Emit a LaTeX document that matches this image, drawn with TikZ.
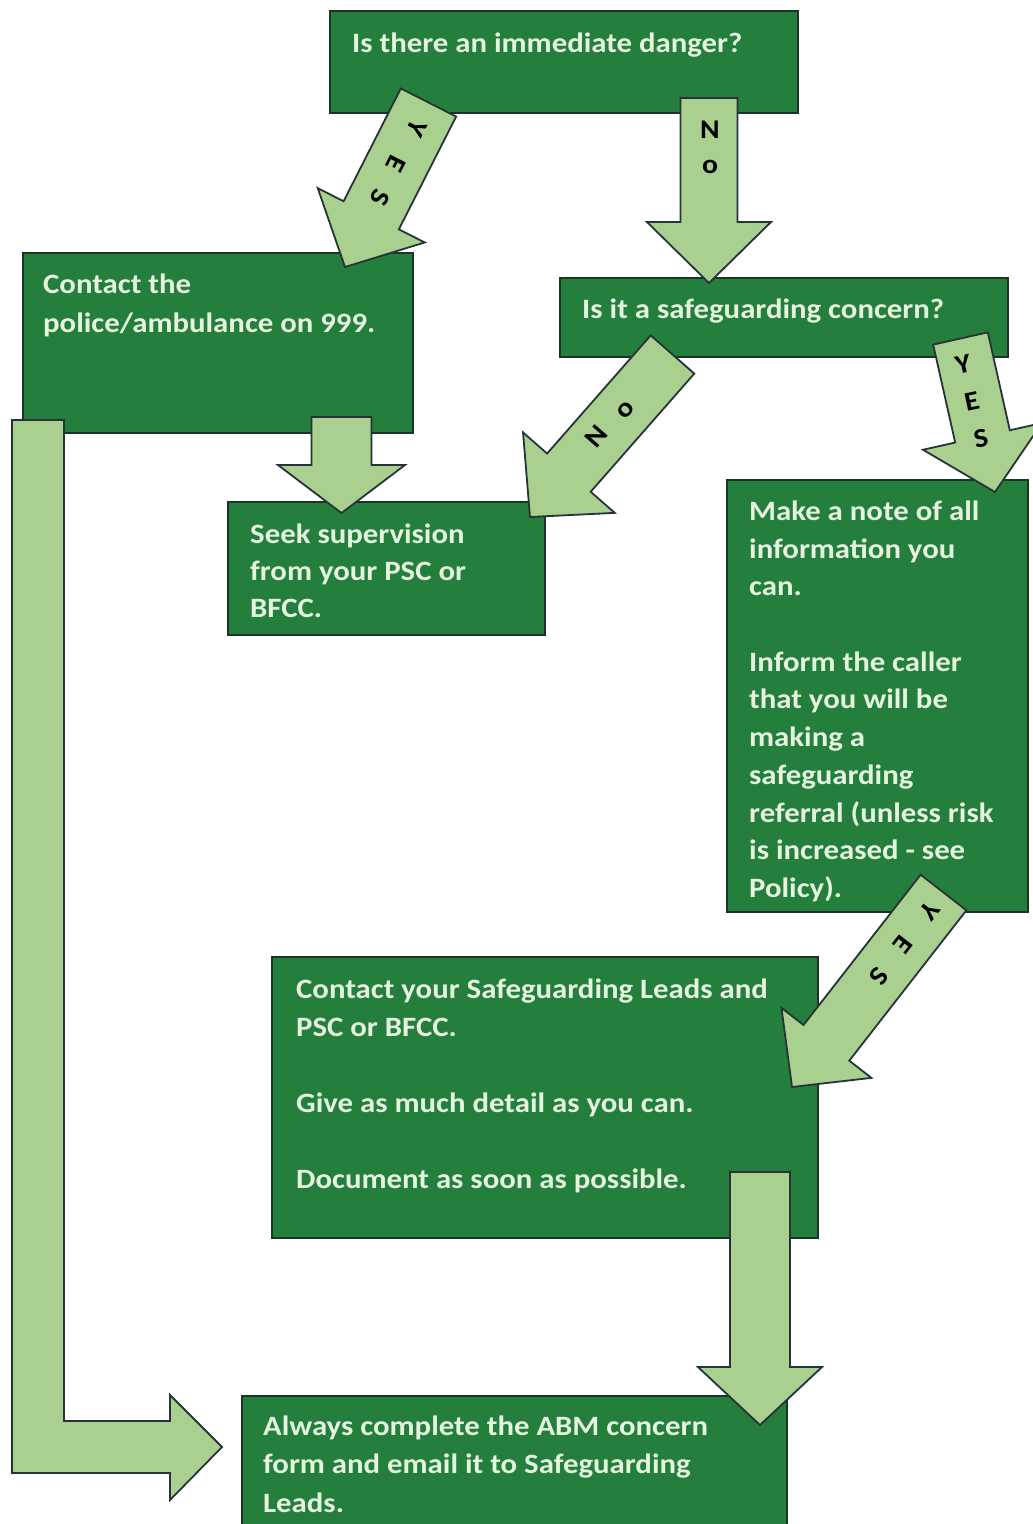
\documentclass[tikz,border=0pt]{standalone}
\usepackage{fontspec}
\setmainfont{Carlito}
\newfontfamily\boxfont{Carlito}[FakeStretch=1.1]
\usetikzlibrary{calc}
\definecolor{boxg}{RGB}{36,126,60}
\definecolor{boxline}{RGB}{28,52,40}
\definecolor{txtc}{RGB}{228,244,222}
\definecolor{arrg}{RGB}{169,208,142}
\definecolor{arrline}{RGB}{38,52,58}
\tikzset{
  box/.style={draw=boxline, fill=boxg, line width=1.6pt, inner sep=0pt, outer sep=0pt, anchor=north west},
  arr/.style={draw=arrline, fill=arrg, line width=1.8pt, line join=miter},
  txt/.style={font=\boxfont\fontsize{28}{38}\selectfont\bfseries, text=txtc, inner sep=0pt, anchor=base west},
  lab/.style={font=\boxfont\fontsize{27}{30}\selectfont\bfseries, text=black, inner sep=0pt},
}
% #1 start, #2 tip, #3 half shaft width, #4 half head width, #5 head length
\newcommand\blockarrow[5]{%
  \coordinate (bah) at ($(#2)!#5!(#1)$);
  \draw[arr] ($(#1)!#3!90:(#2)$) -- ($(bah)!#3!90:(#2)$) -- ($(bah)!#4!90:(#2)$)
    -- (#2) -- ($(bah)!#4!-90:(#2)$) -- ($(bah)!#3!-90:(#2)$) -- ($(#1)!#3!-90:(#2)$) -- cycle;
}
\begin{document}
\begin{tikzpicture}[x=1pt,y=-1pt]
\useasboundingbox (0,0) rectangle (1033,1524);
\fill[white] (0,0) rectangle (1033,1524);

% boxes
\node[box, minimum width=468pt, minimum height=102pt] (danger) at (330,11) {};
\node[box, minimum width=390pt, minimum height=180pt] (police) at (23,253) {};
\node[box, minimum width=448pt, minimum height=79pt] (concern) at (560,278) {};
\node[box, minimum width=317pt, minimum height=133pt] (seek) at (228,502) {};
\node[box, minimum width=301pt, minimum height=432pt] (note) at (727,480) {};
\node[box, minimum width=546pt, minimum height=281pt] (leads) at (272,957) {};
\node[box, minimum width=545pt, minimum height=140pt] (always) at (242,1396) {};

% arrow end points
\coordinate (a1s) at (428.5,102.5); \coordinate (a1t) at (345,267);
\coordinate (a2s) at (709,98);      \coordinate (a2t) at (709,283);
\coordinate (a3s) at (672.5,354.5); \coordinate (a3t) at (530,517);
\coordinate (a4s) at (960.5,338.5); \coordinate (a4t) at (995,492);
\coordinate (a5s) at (943.5,892.5); \coordinate (a5t) at (792,1087);
\coordinate (a6s) at (341.5,417);   \coordinate (a6t) at (341.5,513);
\coordinate (a8s) at (760,1172);    \coordinate (a8t) at (760,1425);

\blockarrow{a1s}{a1t}{31pt}{60pt}{58pt}
\blockarrow{a2s}{a2t}{28.5pt}{62pt}{61pt}
\blockarrow{a3s}{a3t}{29pt}{61pt}{59pt}
\blockarrow{a4s}{a4t}{28pt}{61pt}{57pt}
\blockarrow{a5s}{a5t}{29pt}{57pt}{56pt}
\blockarrow{a6s}{a6t}{30pt}{63.5pt}{48pt}
\blockarrow{a8s}{a8t}{30pt}{62pt}{58pt}

% bent arrow from police box to always box
\draw[arr] (12,420) -- (64,420) -- (64,1421) -- (170,1421) -- (170,1395) -- (222,1447)
  -- (170,1500) -- (170,1473) -- (12,1473) -- cycle;

% arrow labels
\node[lab, rotate=-117] (y1) at (417,128) {Y};
\node[lab, rotate=-117] (e1) at (396,164) {E};
\node[lab, rotate=-117] (s1) at (380,198) {S};
\node[lab] (n2) at (710,130) {N};
\node[lab] (o2) at (710,167) {o};
\node[lab, rotate=49] (n3) at (596,436) {N};
\node[lab, rotate=49] (o3) at (626,410) {o};
\node[lab, rotate=12] (y4) at (963,364) {Y};
\node[lab, rotate=12] (e4) at (972,401) {E};
\node[lab, rotate=12] (s4) at (981,438) {S};
\node[lab, rotate=-128] (y5) at (930,911) {Y};
\node[lab, rotate=-128] (e5) at (903,945) {E};
\node[lab, rotate=-128] (s5) at (879,976) {S};

% texts
\node[txt] (t1) at (352,52) {Is there an immediate danger?};
\node[txt] (t2a) at (43,293) {Contact the};
\node[txt] (t2b) at (43,332) {police/ambulance on 999.};
\node[txt] (t3) at (582,318) {Is it a safeguarding concern?};
\node[txt] (t4a) at (250,543) {Seek supervision};
\node[txt] (t4b) at (250,580) {from your PSC or};
\node[txt] (t4c) at (250,617) {BFCC.};
\node[txt] (t5a) at (749,520) {Make a note of all};
\node[txt] (t5b) at (749,558) {information you};
\node[txt] (t5c) at (749,595) {can.};
\node[txt] (t5d) at (749,671) {Inform the caller};
\node[txt] (t5e) at (749,708) {that you will be};
\node[txt] (t5f) at (749,746) {making a};
\node[txt] (t5g) at (749,784) {safeguarding};
\node[txt] (t5h) at (749,822) {referral (unless risk};
\node[txt] (t5i) at (749,859) {is increased - see};
\node[txt] (t5j) at (749,897) {Policy).};
\node[txt] (t6a) at (296,998) {Contact your Safeguarding Leads and};
\node[txt] (t6b) at (296,1036) {PSC or BFCC.};
\node[txt] (t6c) at (296,1112) {Give as much detail as you can.};
\node[txt] (t6d) at (296,1188) {Document as soon as possible.};
\node[txt] (t7a) at (263,1435) {Always complete the ABM concern};
\node[txt] (t7b) at (263,1473) {form and email it to Safeguarding};
\node[txt] (t7c) at (263,1512) {Leads.};
\end{tikzpicture}
\end{document}
